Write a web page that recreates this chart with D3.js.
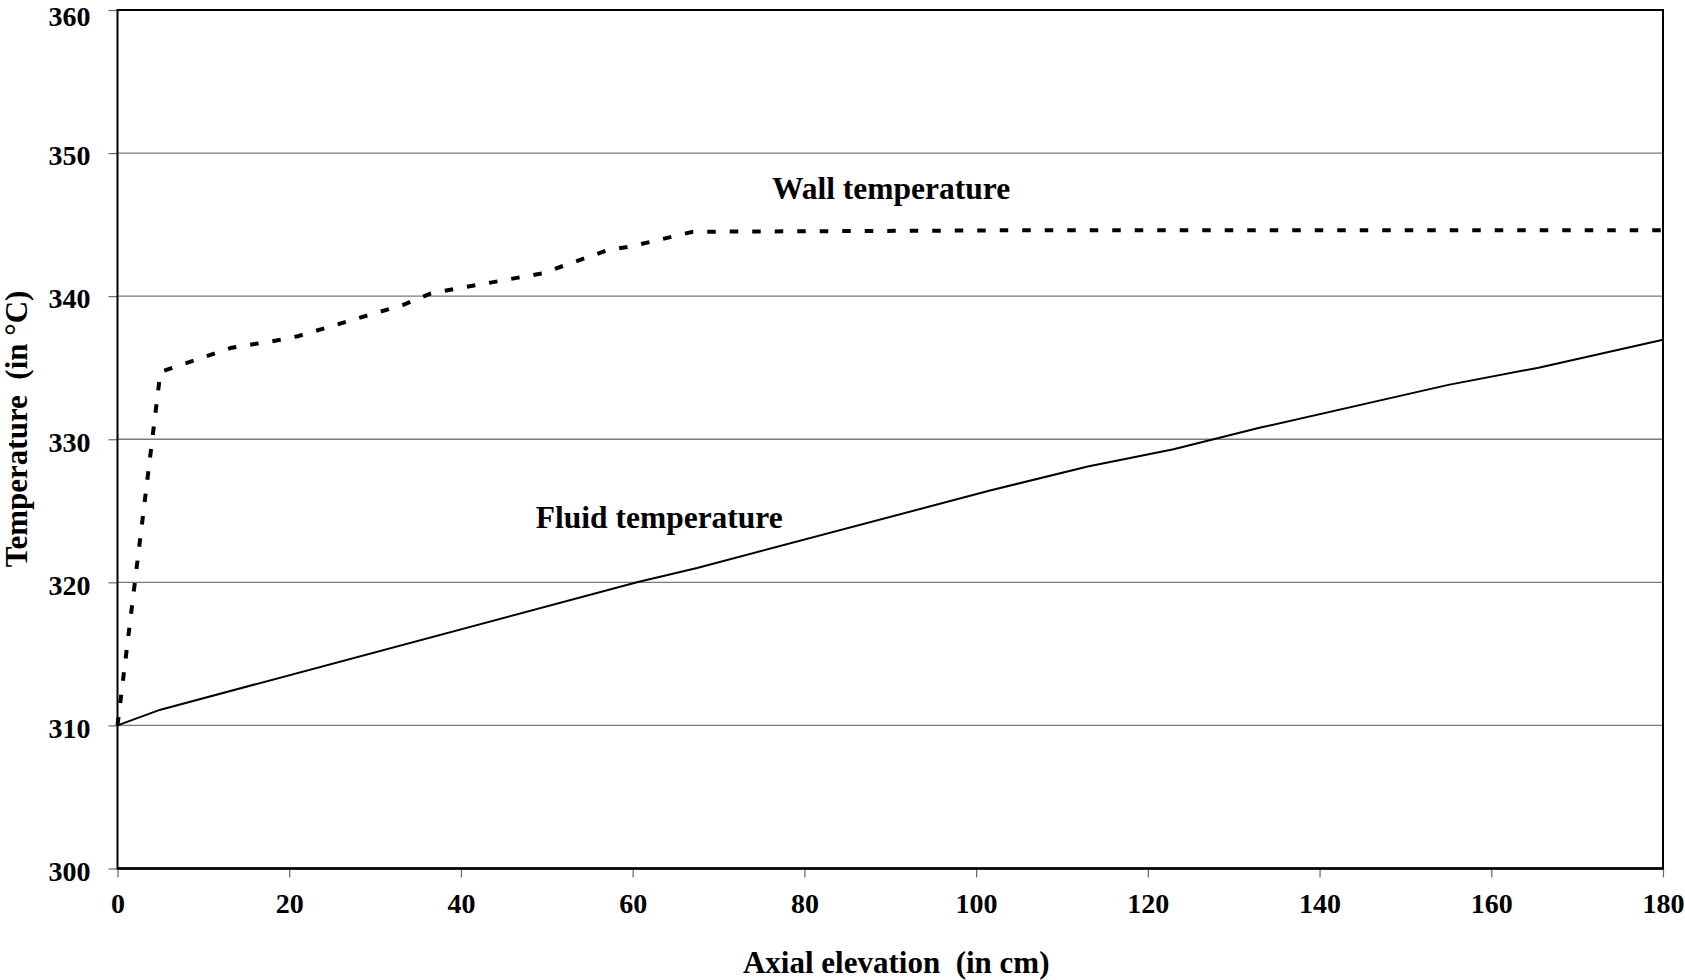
<!DOCTYPE html>
<html>
<head>
<meta charset="utf-8">
<script src="https://cdn.jsdelivr.net/npm/d3@7"></script>
<style>
  html, body { margin: 0; padding: 0; background: #fff; }
  svg { display: block; font-family: "Liberation Serif", "Times New Roman", serif; font-weight: bold; }
</style>
</head>
<body>
<svg id="chart" width="1685" height="980"></svg>
<script>
// Axial elevation (cm) and temperature (°C) along the heated channel
const wallElevation = [0, 5, 13.3, 18.5, 21, 33.3, 36.5, 49.5, 57, 60, 67, 103, 145, 180];
const wallTemperature = [310, 334.7, 336.4, 336.9, 337.2, 339.4, 340.2, 341.6, 343.2, 343.5, 344.5, 344.6, 344.6, 344.6];

const fluidElevation = [0, 5, 60.5, 67.5, 101.5, 113, 123, 133, 155, 165.5, 180];
const fluidTemperature = [310, 311.1, 320.0, 321.0, 326.4, 328.1, 329.3, 330.8, 333.8, 335.0, 336.95];

const xTicks = [0, 20, 40, 60, 80, 100, 120, 140, 160, 180];
const yTicks = [300, 310, 320, 330, 340, 350, 360];

const xTitle = "Axial elevation\u00a0\u00a0(in cm)";
const yTitle = "Temperature\u00a0\u00a0(in \u00b0C)";
const wallLabel = { text: "Wall temperature", x: 90.1, y: 346.8 };
const fluidLabel = { text: "Fluid temperature", x: 63.1, y: 323.8 };

const svg = d3.select("#chart");
const plotLeft = 117.5, plotRight = 1663, plotTop = 10, plotBottom = 868.5;

const x = d3.scaleLinear().domain([0, 180]).range([plotLeft, plotRight]);
const y = d3.scaleLinear().domain([300, 360]).range([plotBottom, plotTop]);

// horizontal gridlines
svg.append("g")
  .selectAll("line")
  .data(yTicks.filter(v => v > 300 && v < 360))
  .join("line")
  .attr("x1", plotLeft).attr("x2", plotRight)
  .attr("y1", d => y(d)).attr("y2", d => y(d))
  .attr("stroke", "#7a7a7a")
  .attr("stroke-width", 1.3);

// axes
const yAxis = svg.append("g")
  .attr("transform", `translate(${plotLeft},0)`)
  .call(d3.axisLeft(y).tickValues(yTicks).tickSize(9).tickPadding(18).tickFormat(d3.format("d")));
yAxis.select(".domain").remove();
yAxis.selectAll(".tick line").attr("stroke", "#666").attr("stroke-width", 1.2);
yAxis.selectAll(".tick text")
  .attr("font-size", 28).attr("font-family", "Liberation Serif").attr("font-weight", "bold")
  .attr("fill", "#000")
  // the topmost label sits against the page edge, so keep it just inside
  .attr("dy", d => d === 360 ? "0.55em" : "0.42em");

const xAxis = svg.append("g")
  .attr("transform", `translate(0,${plotBottom})`)
  .call(d3.axisBottom(x).tickValues(xTicks).tickSize(9).tickPadding(27).tickFormat(d3.format("d")));
xAxis.select(".domain").remove();
xAxis.selectAll(".tick line").attr("stroke", "#666").attr("stroke-width", 1.2);
xAxis.selectAll(".tick text")
  .attr("font-size", 28).attr("font-family", "Liberation Serif").attr("font-weight", "bold")
  .attr("fill", "#000").attr("dy", "0.3em");

// plot frame
svg.append("rect")
  .attr("x", plotLeft).attr("y", plotTop)
  .attr("width", plotRight - plotLeft).attr("height", plotBottom - plotTop)
  .attr("fill", "none").attr("stroke", "#000").attr("stroke-width", 2);
svg.append("line")
  .attr("x1", plotLeft).attr("x2", plotRight).attr("y1", plotBottom).attr("y2", plotBottom)
  .attr("stroke", "#000").attr("stroke-width", 2.5);

const line = d3.line().x(d => x(d[0])).y(d => y(d[1]));

// fluid temperature: solid line
svg.append("path")
  .datum(d3.zip(fluidElevation, fluidTemperature))
  .attr("d", line)
  .attr("fill", "none")
  .attr("stroke", "#000")
  .attr("stroke-width", 2);

// wall temperature: heavy dashed line
svg.append("path")
  .datum(d3.zip(wallElevation, wallTemperature))
  .attr("d", line)
  .attr("fill", "none")
  .attr("stroke", "#000")
  .attr("stroke-width", 4)
  .attr("stroke-dasharray", "8.5,14");

// series labels
[wallLabel, fluidLabel].forEach(l => {
  svg.append("text")
    .attr("x", x(l.x)).attr("y", y(l.y))
    .attr("text-anchor", "middle")
    .attr("font-size", 31.5)
    .attr("fill", "#000")
    .text(l.text);
});

// axis titles
svg.append("text")
  .attr("x", (plotLeft + plotRight) / 2 + 6)
  .attr("y", 973)
  .attr("text-anchor", "middle")
  .attr("font-size", 31)
  .attr("fill", "#000")
  .text(xTitle);

svg.append("text")
  .attr("transform", `translate(27,${429}) rotate(-90)`)
  .attr("text-anchor", "middle")
  .attr("font-size", 31)
  .attr("fill", "#000")
  .text(yTitle);
</script>
</body>
</html>
